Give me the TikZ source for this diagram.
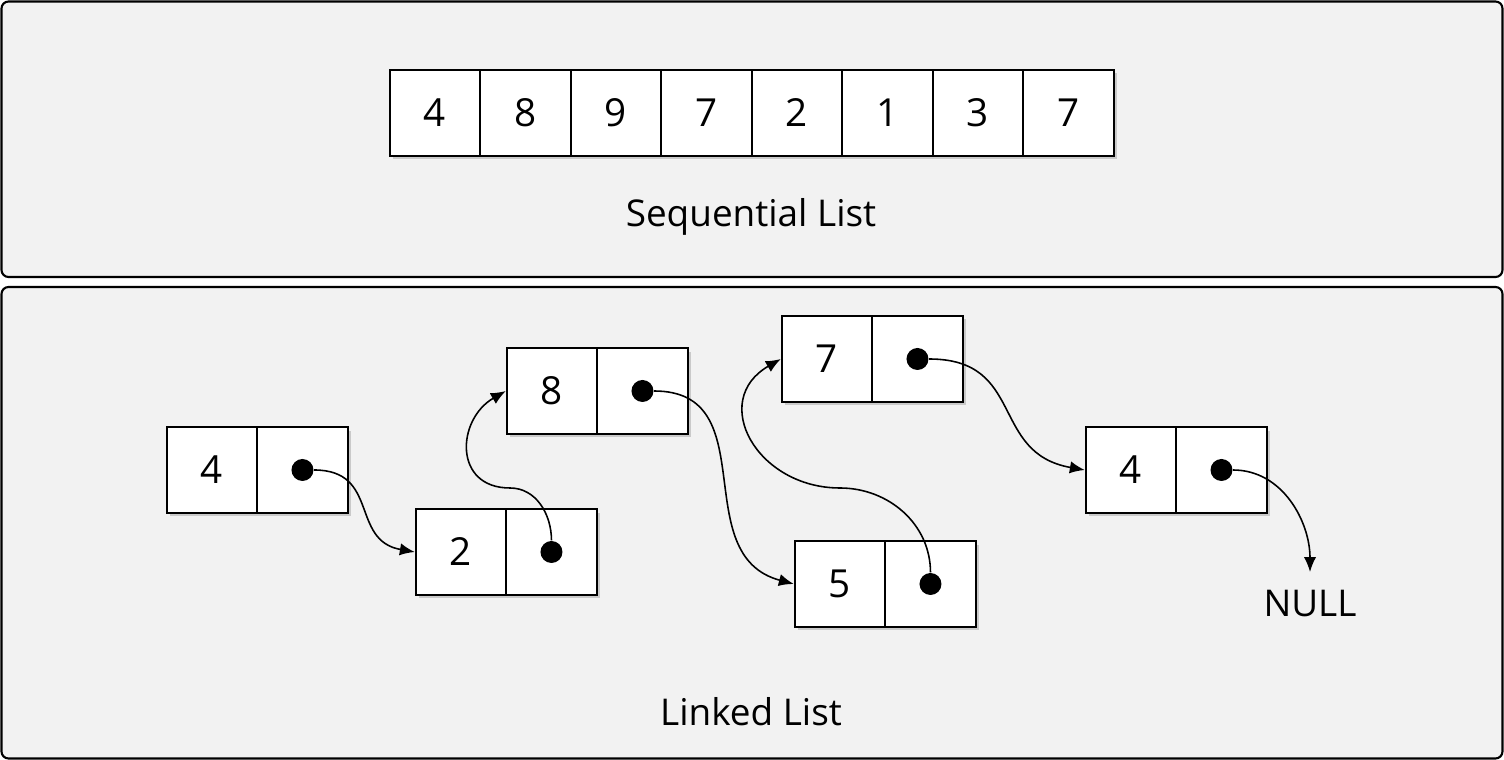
\documentclass[tikz,border=0pt]{standalone}
\usepackage{fontspec}
\setmainfont{Open Sans}
\usetikzlibrary{arrows.meta,shadows}
\definecolor{panelgray}{HTML}{F2F2F2}

\begin{document}
\begin{tikzpicture}[x=0.02cm,
            y=0.02cm,
            >={Latex[length=8.5pt,width=7pt]},
            node distance=1.81cm,
            semithick,
            panel/.style={draw,line width=1.2pt,rounded corners=4pt,fill=panelgray},
            cell/.style={draw,line width=1.1pt,fill=white,
                         minimum width=1.81cm,minimum height=1.72cm,inner sep=0pt,
                         font=\fontsize{22}{26}\selectfont,
                         drop shadow={shadow xshift=0.07cm,shadow yshift=-0.07cm,opacity=0.35}},
            dot/.style={circle,fill,inner sep=0pt,minimum size=0.44cm},
            link/.style={->,draw,line width=0.9pt},
            caption/.style={font=\fontsize{21}{26}\selectfont,anchor=base}]

        \useasboundingbox (0,0) rectangle (1504,760);

        % the two panels
        \path[panel] (1.5,483) rectangle (1502.5,758.5);
        \path[panel] (1.5,1.5) rectangle (1502.5,473);

        % sequential list
        \node[cell] (s1) at (435,647) {4};
        \node[cell] (s2) [right of=s1] {8};
        \node[cell] (s3) [right of=s2] {9};
        \node[cell] (s4) [right of=s3] {7};
        \node[cell] (s5) [right of=s4] {2};
        \node[cell] (s6) [right of=s5] {1};
        \node[cell] (s7) [right of=s6] {3};
        \node[cell] (s8) [right of=s7] {7};

        \node[caption] (seqlabel) at (751,533) {Sequential List};

        % linked list
        \node[cell] (v1) at (212,290) {4};
        \node[cell] (p1) [right of=v1] {};
        \node[cell] (v2) at (461,208) {2};
        \node[cell] (p2) [right of=v2] {};
        \node[cell] (v3) at (552,369) {8};
        \node[cell] (p3) [right of=v3] {};
        \node[cell] (v4) at (827,401) {7};
        \node[cell] (p4) [right of=v4] {};
        \node[cell] (v5) at (840,176) {5};
        \node[cell] (p5) [right of=v5] {};
        \node[cell] (v6) at (1131,290) {4};
        \node[cell] (p6) [right of=v6] {};

        \node[dot] (d1) at (p1) {};
        \node[dot] (d2) at (p2) {};
        \node[dot] (d3) at (p3) {};
        \node[dot] (d4) at (p4) {};
        \node[dot] (d5) at (p5) {};
        \node[dot] (d6) at (p6) {};

        \node[caption] (nulltext) at (1310,143) {NULL};
        \coordinate (nullend) at (1310,188);
        \coordinate (bend1) at (510,272);
        \coordinate (bend2) at (840,272);

        \node[caption] (linklabel) at (751,34) {Linked List};

        \path (d1) edge [link,out=0,in=170,looseness=1.3] (v2.west)
              (d3) edge [link,out=0,in=165,looseness=1.2] (v5.west)
              (d4) edge [link,out=0,in=170,looseness=1.3] (v6.west)
              (d6) edge [link,out=0,in=90]                (nullend);

        \draw[link] (d2) to [out=90,in=0] (bend1)
                         to [out=180,in=210,looseness=1.5] (v3.west);
        \draw[link] (d5) to [out=90,in=0] (bend2)
                         to [out=180,in=210,looseness=1.5] (v4.west);

    \end{tikzpicture}
\end{document}
